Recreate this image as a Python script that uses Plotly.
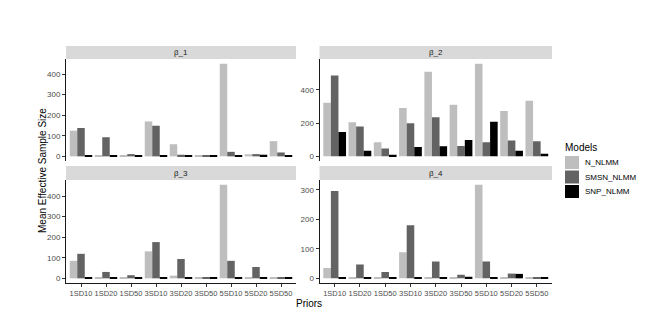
import plotly.graph_objects as go

W, H = 652, 313

priors = ["1SD10", "1SD20", "1SD50", "3SD10", "3SD20", "3SD50", "5SD10", "5SD20", "5SD50"]
models = ["N_NLMM", "SMSN_NLMM", "SNP_NLMM"]
colors = ["#BEBEBE", "#636363", "#000000"]
panel_titles = ["β_1", "β_2", "β_3", "β_4"]

# beta_1
b1_N    = [125, 2, 2, 170, 59, 2, 451, 10, 74]
b1_SMSN = [138, 93, 11, 149, 8, 3, 22, 11, 19]
b1_SNP  = [2, 2, 3, 2, 3, 3, 2, 8, 3]
# beta_2
b2_N    = [323, 206, 85, 291, 509, 311, 558, 273, 335]
b2_SMSN = [487, 180, 48, 200, 236, 63, 85, 95, 91]
b2_SNP  = [147, 34, 10, 57, 61, 99, 208, 34, 16]
# beta_3
b3_N    = [85, 4, 3, 131, 13, 3, 455, 3, 3]
b3_SMSN = [119, 31, 15, 176, 94, 5, 85, 55, 5]
b3_SNP  = [5, 5, 5, 5, 5, 5, 5, 5, 4]
# beta_4
b4_N    = [35, 3, 3, 88, 3, 3, 317, 4, 3]
b4_SMSN = [296, 47, 21, 180, 57, 12, 57, 16, 4]
b4_SNP  = [4, 4, 4, 4, 4, 5, 4, 15, 4]

y_ticks_1 = [0, 100, 200, 300, 400]
y_ticks_2 = [0, 200, 400]
y_ticks_3 = [0, 100, 200, 300, 400]
y_ticks_4 = [0, 100, 200, 300]

panels = [
    (b1_N, b1_SMSN, b1_SNP),
    (b2_N, b2_SMSN, b2_SNP),
    (b3_N, b3_SMSN, b3_SNP),
    (b4_N, b4_SMSN, b4_SNP),
]
ticks = [y_ticks_1, y_ticks_2, y_ticks_3, y_ticks_4]


def px_x(p):
    return p / W


def px_y(p):
    return 1 - p / H


x_doms = [(66, 296), (319.5, 552), (66, 296), (319.5, 552)]
y_doms = [(59, 161), (59, 161), (180, 283), (180, 283)]
strip_y = [(46, 59), (46, 59), (166, 180), (166, 180)]

fig = go.Figure()
FONT = "Liberation Sans, Arial, sans-serif"
TICKCOL = "#4D4D4D"

for i, series in enumerate(panels):
    sfx = "" if i == 0 else str(i + 1)
    for m, vals, c in zip(models, series, colors):
        fig.add_trace(go.Bar(
            x=priors, y=vals, name=m, marker=dict(color=c, line=dict(width=0)),
            xaxis="x" + sfx, yaxis="y" + sfx, showlegend=False,
            hovertemplate="%{x}: %{y}<extra>" + m + "</extra>"))
    mx = max(max(s) for s in series)
    pad = 0.05 * mx
    xd = x_doms[i]
    yd = y_doms[i]
    bottom = i >= 2
    fig.layout["xaxis" + sfx] = dict(
        domain=[px_x(xd[0]), px_x(xd[1])], anchor="y" + sfx,
        type="category", categoryorder="array", categoryarray=priors,
        range=[-0.6, len(priors) - 0.4],
        showline=bottom, linecolor="#1A1A1A", linewidth=1,
        ticks="outside" if bottom else "", ticklen=3, tickcolor="#333333",
        showticklabels=bottom, tickangle=0,
        tickfont=dict(family=FONT, size=7.5, color=TICKCOL),
        showgrid=False, zeroline=False, fixedrange=True, automargin=False)
    fig.layout["yaxis" + sfx] = dict(
        domain=[px_y(yd[1]), px_y(yd[0])], anchor="x" + sfx,
        range=[-pad, mx + pad], tickvals=ticks[i],
        showline=True, linecolor="#1A1A1A", linewidth=1,
        ticks="outside", ticklen=3, tickcolor="#333333",
        tickfont=dict(family=FONT, size=8, color=TICKCOL),
        showgrid=False, zeroline=False, fixedrange=True, automargin=False)
    sy = strip_y[i]
    fig.add_shape(type="rect", xref="paper", yref="paper",
                  x0=px_x(xd[0]), x1=px_x(xd[1]), y0=px_y(sy[1]), y1=px_y(sy[0]),
                  fillcolor="#D9D9D9", line=dict(width=0), layer="below")
    fig.add_annotation(x=px_x((xd[0] + xd[1]) / 2), y=px_y((sy[0] + sy[1]) / 2),
                       xref="paper", yref="paper", text=panel_titles[i], showarrow=False,
                       font=dict(family=FONT, size=8, color="#1A1A1A"),
                       xanchor="center", yanchor="middle")

# axis titles
fig.add_annotation(x=px_x(309), y=px_y(303), xref="paper", yref="paper", text="Priors",
                   showarrow=False, font=dict(family=FONT, size=10, color="#000000"),
                   xanchor="center", yanchor="middle")
fig.add_annotation(x=px_x(42), y=px_y(171), xref="paper", yref="paper",
                   text="Mean Effective Sample Size", textangle=-90, showarrow=False,
                   font=dict(family=FONT, size=10, color="#000000"),
                   xanchor="center", yanchor="middle")

# legend (drawn manually to match key geometry)
fig.add_annotation(x=px_x(563), y=px_y(147), xref="paper", yref="paper", text="Models",
                   showarrow=False, font=dict(family=FONT, size=10, color="#000000"),
                   xanchor="left", yanchor="middle")
key_tops = [156, 170.5, 185]
for m, c, kt in zip(models, colors, key_tops):
    fig.add_shape(type="rect", xref="paper", yref="paper",
                  x0=px_x(565), x1=px_x(579), y0=px_y(kt + 13), y1=px_y(kt),
                  fillcolor=c, line=dict(width=0))
    fig.add_annotation(x=px_x(583), y=px_y(kt + 6.5), xref="paper", yref="paper", text=m,
                       showarrow=False, font=dict(family=FONT, size=8, color="#000000"),
                       xanchor="left", yanchor="middle")

fig.update_layout(
    width=W, height=H, margin=dict(l=0, r=0, t=0, b=0, autoexpand=False),
    paper_bgcolor="white", plot_bgcolor="white",
    barmode="group", bargap=0.1, bargroupgap=0,
    showlegend=False, font=dict(family=FONT),
)

fig.write_html("out.html", config={"displayModeBar": False},
               post_script="document.body.style.margin='0';document.body.style.overflow='hidden';")
